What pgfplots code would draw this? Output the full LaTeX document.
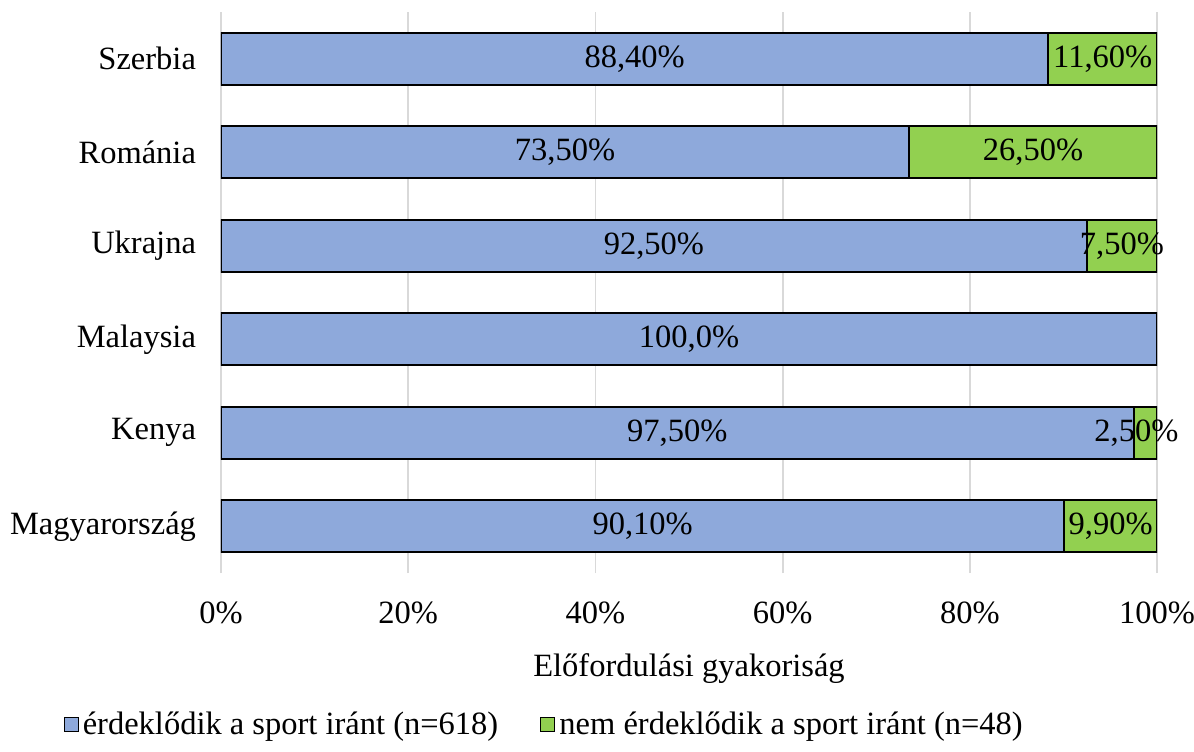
\documentclass[border=0pt]{standalone}
\usepackage{pgfplots}
\pgfplotsset{compat=1.18}
\usepackage{fontspec}
\setmainfont{Liberation Serif}
\definecolor{cBlue}{HTML}{8EA9DB}
\definecolor{cGreen}{HTML}{92D050}
\definecolor{cGrid}{HTML}{D9D9D9}

\begin{document}
\begin{tikzpicture}[font=\fontsize{16.25pt}{19pt}\selectfont]
  % page frame, axis sits at the origin (south west anchor)
  \useasboundingbox (-110.5pt,-89pt) rectangle (486.5pt,286.5pt);
  \begin{axis}[
    xbar stacked,
    scale only axis,
    width=468pt, height=280.5pt,
    xmin=0, xmax=100,
    ymin=-0.5, ymax=5.5,
    bar width=26pt,
    axis line style={draw=none},
    major tick length=0pt,
    xmajorgrids,
    grid style={cGrid, line width=0.9pt},
    xtick={0,20,40,60,80,100},
    xticklabels={0\%,20\%,40\%,60\%,80\%,100\%},
    xticklabel style={yshift=-11pt},
    ytick={0,1,2,3,4,5},
    yticklabels={Magyarország,Kenya,Malaysia,Ukrajna,Románia,Szerbia},
    yticklabel style={xshift=-9pt},
    xlabel={Előfordulási gyakoriság},
    xlabel style={yshift=-8pt},
    legend columns=2,
    legend style={draw=none, at={(-0.175,-0.27)}, anchor=west,
      /tikz/every even column/.append style={column sep=19pt}},
    legend image code/.code={\draw[#1, line width=0.6pt] (0pt,-3.5pt) rectangle (7pt,3.5pt);},
  ]
    % érdeklődik
    \addplot[fill=cBlue, draw=black, line width=1pt] coordinates {
      (90.1,0) (97.5,1) (100,2) (92.5,3) (73.5,4) (88.4,5)
    };
    % nem érdeklődik
    \addplot[fill=cGreen, draw=black, line width=1pt] coordinates {
      (9.9,0) (2.5,1) (0,2) (7.5,3) (26.5,4) (11.6,5)
    };
    \legend{érdeklődik a sport iránt (n=618), nem érdeklődik a sport iránt (n=48)}
  \end{axis}
  \begin{axis}[
    scale only axis,
    width=468pt, height=280.5pt,
    xmin=0, xmax=100,
    ymin=-0.5, ymax=5.5,
    hide axis,
    nodes near coords,
    point meta=explicit symbolic,
    every node near coord/.append style={anchor=center},
  ]
    \addplot[draw=none, mark=none] coordinates {
      (45.05,0) [90,10\%]
      (48.75,1) [97,50\%]
      (50,2) [100,0\%]
      (46.25,3) [92,50\%]
      (36.75,4) [73,50\%]
      (44.2,5) [88,40\%]
    };
    \addplot[draw=none, mark=none] coordinates {
      (95.05,0) [9,90\%]
      (97.8,1) [2,50\%]
      (96.25,3) [7,50\%]
      (86.75,4) [26,50\%]
      (94.2,5) [11,60\%]
    };
  \end{axis}
\end{tikzpicture}
\end{document}
